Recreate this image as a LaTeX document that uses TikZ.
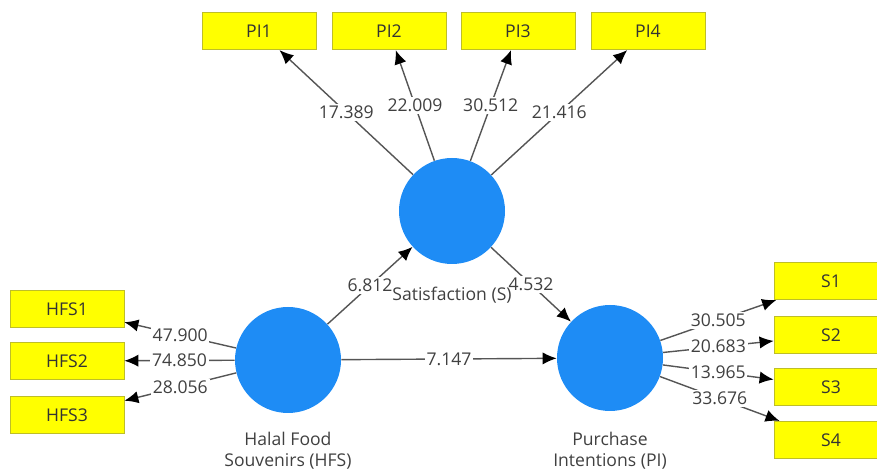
\documentclass[tikz,border=0pt]{standalone}
\usepackage{fontspec}
\setmainfont{Open Sans}
\usepackage{xcolor}
\usepackage{tikz}
\usetikzlibrary{arrows.meta,positioning,calc}

\definecolor{lvblue}{RGB}{30,140,245}
\definecolor{indyellow}{RGB}{255,255,0}
\definecolor{indborder}{RGB}{190,190,40}
\definecolor{linkgray}{RGB}{85,85,85}
\definecolor{txtgray}{RGB}{64,64,64}

\begin{document}
\begin{tikzpicture}[x=0.2mm, y=-0.2mm,
    font=\fontsize{10}{12}\selectfont,
    latent/.style={circle, fill=lvblue, minimum size=2.12cm, inner sep=0pt},
    indicator/.style={draw=indborder, fill=indyellow, minimum width=2.28cm, minimum height=0.75cm, inner sep=0pt, text=black!80},
    link/.style={draw=linkgray, line width=0.8pt, -{Latex[black,length=8pt,width=7pt]}},
    val/.style={fill=white, inner sep=1pt, text=txtgray},
    lvname/.style={text=txtgray, align=center}]
  \clip (0,0) rectangle (877,473);

  % latent variables
  \node[latent] (S) at (452,211) {};
  \node[latent] (HFS) at (288,360) {};
  \node[latent] (PI) at (610,358) {};

  % indicators
  \node[indicator] (PI1) at (259,31) {PI1};
  \node[indicator] (PI2) at (389,31) {PI2};
  \node[indicator] (PI3) at (518,31) {PI3};
  \node[indicator] (PI4) at (648,31) {PI4};
  \node[indicator] (HFS1) at (67,309) {HFS1};
  \node[indicator] (HFS2) at (67,361) {HFS2};
  \node[indicator] (HFS3) at (67,415) {HFS3};
  \node[indicator] (S1) at (831,281) {S1};
  \node[indicator] (S2) at (831,335) {S2};
  \node[indicator] (S3) at (831,387) {S3};
  \node[indicator] (S4) at (831,440) {S4};

  % outer loadings
  \draw[link] (S) -- node[val] {17.389} (PI1);
  \draw[link] (S) -- node[val] {22.009} (PI2);
  \draw[link] (S) -- node[val] {30.512} (PI3);
  \draw[link] (S) -- node[val] {21.416} (PI4);
  \draw[link] (HFS) -- node[val] {47.900} (HFS1);
  \draw[link] (HFS) -- node[val] {74.850} (HFS2);
  \draw[link] (HFS) -- node[val] {28.056} (HFS3);
  \draw[link] (PI) -- node[val] {30.505} (S1);
  \draw[link] (PI) -- node[val] {20.683} (S2);
  \draw[link] (PI) -- node[val] {13.965} (S3);
  \draw[link] (PI) -- node[val] {33.676} (S4);

  % inner model
  \draw[link] (HFS) -- node[val] {6.812} (S);
  \draw[link] (S) -- node[val] {4.532} (PI);
  \draw[link] (HFS) -- node[val] {7.147} (PI);

  % construct names
  \node[lvname] (Slab) at (452,295) {Satisfaction (S)};
  \node[lvname] (HFSlab) at (288,451) {Halal Food\\Souvenirs (HFS)};
  \node[lvname] (PIlab) at (610,451) {Purchase\\Intentions (PI)};
\end{tikzpicture}
\end{document}
